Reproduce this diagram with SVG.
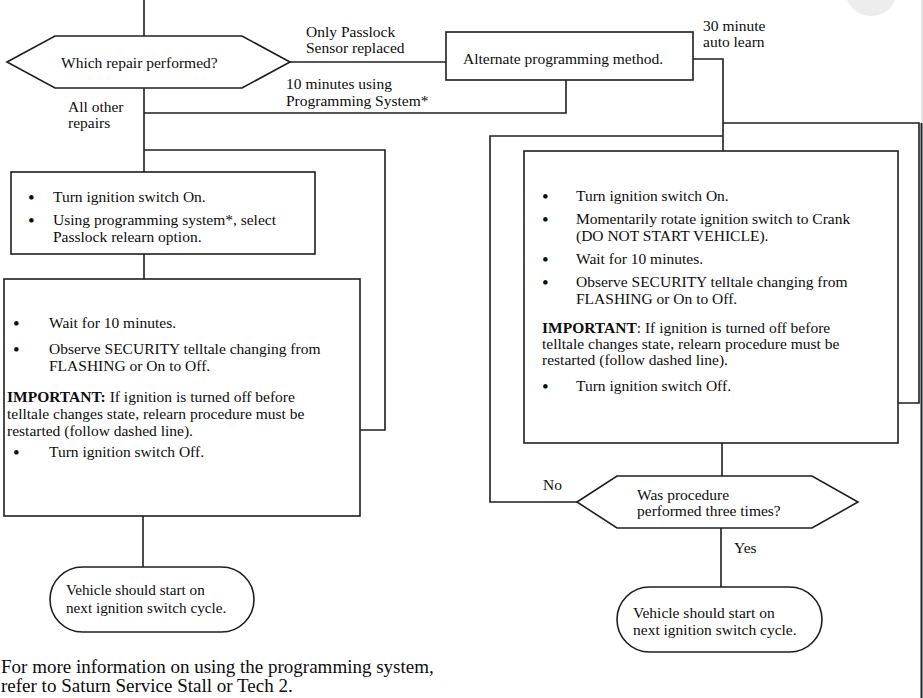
<svg xmlns="http://www.w3.org/2000/svg" width="923" height="698" viewBox="0 0 923 698">
<style>
.ln{fill:none;stroke:#1e1e1e;stroke-width:1.6}
.bx{fill:#fff;stroke:#1e1e1e;stroke-width:1.6}
text{font-family:"Liberation Serif","Times New Roman",serif;font-size:15.5px;fill:#0d0d0d}
.b{font-weight:bold}
.bu{font-size:19px}
.ft{font-size:19px}
</style>
<rect width="923" height="698" fill="#fff"/>
<circle cx="871" cy="-10" r="26" fill="#ededed"/>
<line x1="922" y1="0" x2="922" y2="123" stroke="#c8c8c8" stroke-width="1"/>
<line x1="921.5" y1="123" x2="921.5" y2="698" stroke="#1c2530" stroke-width="2"/>
<g id="connectors">
<path class="ln" d="M144,0 V36"/>
<path class="ln" d="M290,62 H446"/>
<path class="ln" d="M566,80 V113 H144"/>
<path class="ln" d="M144,88 V172"/>
<path class="ln" d="M144,150 H385 V430 H360"/>
<path class="ln" d="M144,254 V279"/>
<path class="ln" d="M143,516 V567"/>
<path class="ln" d="M693,59 H723 V151"/>
<path class="ln" d="M723,123 H919 V403 H898"/>
<path class="ln" d="M723,136 H490 V502 H577"/>
<path class="ln" d="M722,443 V476"/>
<path class="ln" d="M721,528 V587"/>
<text x="306" y="37">Only Passlock</text>
<text x="306" y="53">Sensor replaced</text>
<text x="286" y="89">10 minutes using</text>
<text x="286" y="106">Programming System*</text>
<text x="68" y="112">All other</text>
<text x="68" y="128">repairs</text>
<text x="703" y="31">30 minute</text>
<text x="703" y="47">auto learn</text>
<text x="543" y="490">No</text>
<text x="734" y="553">Yes</text>
</g>
<g id="decision1">
<polygon class="bx" points="7,62 55,36 242,36 290,62 242,88 55,88"/>
<text x="61" y="68">Which repair performed?</text>
</g>
<g id="alternate">
<rect class="bx" x="446" y="32" width="247" height="48"/>
<text x="463" y="64">Alternate programming method.</text>
</g>
<g id="box1">
<rect class="bx" x="11" y="172" width="304" height="82"/>
<text class="bu" x="28" y="204">•</text>
<text x="53" y="202">Turn ignition switch On.</text>
<text class="bu" x="28" y="227">•</text>
<text x="53" y="225">Using programming system*, select</text>
<text x="53" y="242">Passlock relearn option.</text>
</g>
<g id="box2">
<rect class="bx" x="4" y="279" width="356" height="237"/>
<text class="bu" x="13" y="330">•</text>
<text x="49" y="328">Wait for 10 minutes.</text>
<text class="bu" x="13" y="356">•</text>
<text x="49" y="354">Observe SECURITY telltale changing from</text>
<text x="49" y="371">FLASHING or On to Off.</text>
<text x="7" y="402"><tspan class="b">IMPORTANT:</tspan> If ignition is turned off before</text>
<text x="7" y="419">telltale changes state, relearn procedure must be</text>
<text x="7" y="436">restarted (follow dashed line).</text>
<text class="bu" x="13" y="459">•</text>
<text x="49" y="457">Turn ignition switch Off.</text>
</g>
<g id="end1">
<rect class="bx" x="50" y="567" width="204" height="65" rx="32.5"/>
<text x="66" y="595" style="font-size:15.2px">Vehicle should start on</text>
<text x="66" y="613" style="font-size:15.2px">next ignition switch cycle.</text>
</g>
<g id="box3">
<rect class="bx" x="524" y="151" width="374" height="292"/>
<text class="bu" x="542" y="203">•</text>
<text x="576" y="201">Turn ignition switch On.</text>
<text class="bu" x="542" y="226">•</text>
<text x="576" y="224">Momentarily rotate ignition switch to Crank</text>
<text x="576" y="241">(DO NOT START VEHICLE).</text>
<text class="bu" x="542" y="266">•</text>
<text x="576" y="264">Wait for 10 minutes.</text>
<text class="bu" x="542" y="289">•</text>
<text x="576" y="287">Observe SECURITY telltale changing from</text>
<text x="576" y="304">FLASHING or On to Off.</text>
<text x="542" y="333"><tspan class="b">IMPORTANT</tspan>: If ignition is turned off before</text>
<text x="542" y="349">telltale changes state, relearn procedure must be</text>
<text x="542" y="365">restarted (follow dashed line).</text>
<text class="bu" x="542" y="393">•</text>
<text x="576" y="391">Turn ignition switch Off.</text>
</g>
<g id="decision2">
<polygon class="bx" points="577,502 617,476 812,476 858,502 812,528 617,528"/>
<text x="637" y="500">Was procedure</text>
<text x="637" y="516">performed three times?</text>
</g>
<g id="end2">
<rect class="bx" x="617" y="587" width="205" height="65" rx="32.5"/>
<text x="633" y="618">Vehicle should start on</text>
<text x="633" y="635">next ignition switch cycle.</text>
</g>
<g id="footnote">
<text class="ft" x="1" y="673">For more information on using the programming system,</text>
<text class="ft" x="1" y="692">refer to Saturn Service Stall or Tech 2.</text>
</g>
</svg>
